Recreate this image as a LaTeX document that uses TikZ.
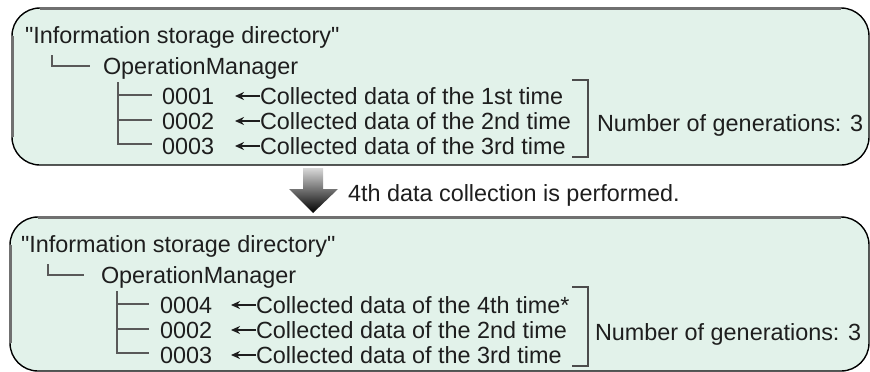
\documentclass[tikz,border=0pt]{standalone}
\usepackage{fontspec}
\setmainfont{Liberation Sans}[Ligatures=TeXOff]
\usetikzlibrary{arrows.meta}
\definecolor{boxfill}{HTML}{E2F2EA}
\definecolor{edgegray}{HTML}{707070}
\definecolor{txt}{HTML}{1E1E1E}
\newcommand\mybox[4]{%
  \fill[boxfill, rounded corners=28] (#1,#2) rectangle (#3,#4);
  \draw[black, line width=1.4, rounded corners=28] (#1,#2) rectangle (#3,#4);
  \draw[edgegray, line width=3] (#1+28,#2) -- (#3-28,#2);
  \draw[edgegray, line width=3] (#1,#2+28) -- (#1,#4-28);
}
\begin{document}
\begin{tikzpicture}[x=1pt,y=-1pt,
  lbl/.style={anchor=base west, inner sep=0pt, outer sep=0pt, text=txt, font=\fontsize{23.4}{24}\selectfont},
  treeline/.style={draw=black!65, line width=1.2},
  bracketline/.style={draw=black!70, line width=1.2},
  ptr/.style={draw=txt, line width=1.6, -{Stealth[length=9pt,width=8pt]}}]
\useasboundingbox (0,0) rectangle (870,372);
% ---------------- top box
\mybox{12}{8}{869}{165}
\node[lbl] (tdir) at (25,43) {"Information storage directory"};
\node[lbl] (tom) at (103,74) {OperationManager};
\coordinate (ta1) at (52,55);
\coordinate (ta2) at (52,66);
\coordinate (ta3) at (90,66);
\draw[treeline] (ta1) -- (ta2) -- (ta3);
\node[lbl] (tn1) at (162,104) {0001};
\node[lbl] (tn2) at (162,129) {0002};
\node[lbl] (tn3) at (162,154) {0003};
\node[lbl] (tc1) at (260,104) {Collected data of the 1st time};
\node[lbl] (tc2) at (260,129) {Collected data of the 2nd time};
\node[lbl] (tc3) at (260,154) {Collected data of the 3rd time};
\coordinate (tp1) at (235,96);
\coordinate (tp2) at (235,121);
\coordinate (tp3) at (235,146);
\draw[ptr] (tc1.west |- tp1) -- (tp1);
\draw[ptr] (tc2.west |- tp2) -- (tp2);
\draw[ptr] (tc3.west |- tp3) -- (tp3);
\coordinate (tv0) at (118,82);
\coordinate (th1) at (118,95);
\coordinate (th2) at (118,120);
\coordinate (th3) at (118,144);
\coordinate (te1) at (152,95);
\coordinate (te2) at (152,120);
\coordinate (te3) at (152,144);
\draw[treeline] (tv0) -- (th3) -- (te3);
\draw[treeline] (th1) -- (te1);
\draw[treeline] (th2) -- (te2);
\coordinate (tb1) at (572,80);
\coordinate (tb2) at (588,80);
\coordinate (tb3) at (588,157);
\coordinate (tb4) at (572,157);
\draw[bracketline] (tb1) -- (tb2) -- (tb3) -- (tb4);
\node[lbl] (tgen) at (597,131) {Number of generations: 3};
% ---------------- arrow
\shade[top color=white!85!black, bottom color=black]
  (303,168) -- (323,168) -- (323,189) -- (338,189) -- (313,213) -- (289,189) -- (303,189) -- cycle;
\node[lbl] (step4) at (348,201) {4th data collection is performed.};
% ---------------- bottom box
\mybox{10}{217}{869}{371}
\node[lbl] (bdir) at (21,252) {"Information storage directory"};
\node[lbl] (bom) at (101,283) {OperationManager};
\coordinate (ba1) at (48,264);
\coordinate (ba2) at (48,275);
\coordinate (ba3) at (84,275);
\draw[treeline] (ba1) -- (ba2) -- (ba3);
\node[lbl] (bn1) at (160,313) {0004};
\node[lbl] (bn2) at (160,338) {0002};
\node[lbl] (bn3) at (160,363) {0003};
\node[lbl] (bc1) at (256,313) {Collected data of the 4th time*};
\node[lbl] (bc2) at (256,338) {Collected data of the 2nd time};
\node[lbl] (bc3) at (256,363) {Collected data of the 3rd time};
\coordinate (bp1) at (231,305);
\coordinate (bp2) at (231,330);
\coordinate (bp3) at (231,355);
\draw[ptr] (bc1.west |- bp1) -- (bp1);
\draw[ptr] (bc2.west |- bp2) -- (bp2);
\draw[ptr] (bc3.west |- bp3) -- (bp3);
\coordinate (bv0) at (117,291);
\coordinate (bh1) at (117,304);
\coordinate (bh2) at (117,329);
\coordinate (bh3) at (117,353);
\coordinate (be1) at (149,304);
\coordinate (be2) at (149,329);
\coordinate (be3) at (149,353);
\draw[treeline] (bv0) -- (bh3) -- (be3);
\draw[treeline] (bh1) -- (be1);
\draw[treeline] (bh2) -- (be2);
\coordinate (bb1) at (572,287);
\coordinate (bb2) at (588,287);
\coordinate (bb3) at (588,366);
\coordinate (bb4) at (572,366);
\draw[bracketline] (bb1) -- (bb2) -- (bb3) -- (bb4);
\node[lbl] (bgen) at (595,340) {Number of generations: 3};
\end{tikzpicture}
\end{document}
